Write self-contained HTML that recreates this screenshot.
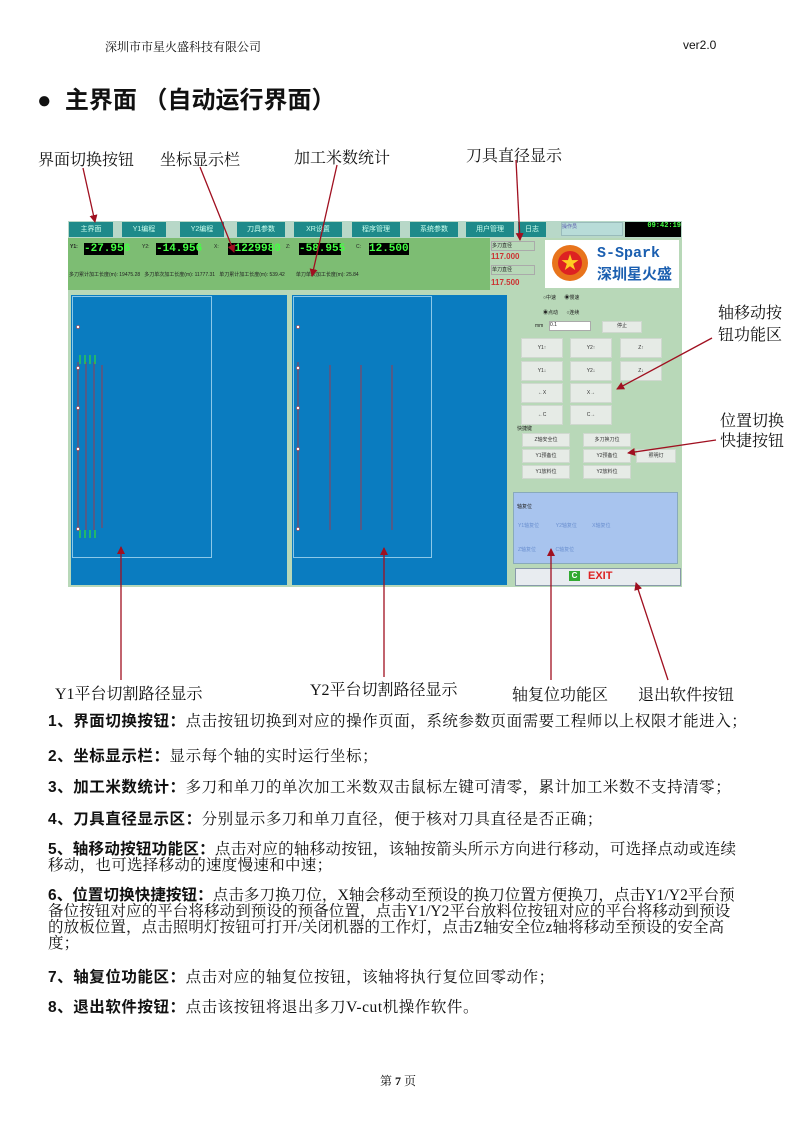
<!DOCTYPE html>
<html><head><meta charset="utf-8"><style>
body{margin:0;background:#fff}
#p{position:relative;width:794px;height:1123px;overflow:hidden;font-family:"Liberation Serif","Noto Serif CJK SC",serif;color:#111}
.a{position:absolute;white-space:nowrap}
.lbl{font-size:16px}
.t{font-size:15.5px;letter-spacing:0.55px;line-height:16px}
.t b{font-family:"Liberation Sans","Noto Sans CJK SC",sans-serif}
.tab{position:absolute;top:222px;height:15px;background:#1e8a8a;color:#cfe;font:7px "Liberation Sans","Noto Sans CJK SC",sans-serif;text-align:center;line-height:15px}
.lcd{position:absolute;top:243px;height:12px;background:#000;color:#4f4;font:bold 11px "Liberation Mono",monospace;line-height:12px}
.s{font:5px "Liberation Sans","Noto Sans CJK SC",sans-serif;color:#222}
.btn{position:absolute;background:#e6ebe6;border:1px solid #cfd8cf;font:5px "Liberation Sans","Noto Sans CJK SC",sans-serif;text-align:center;color:#333}
</style></head><body><div id="p">
<div class="a" style="left:105px;top:38px;font-size:12px">深圳市市星火盛科技有限公司</div>
<div class="a" style="left:683px;top:38px;font:12px 'Liberation Sans',sans-serif">ver2.0</div>
<div class="a" style="left:37px;top:80px;font:bold 24px 'Liberation Sans','Noto Sans CJK SC',sans-serif">●&nbsp; 主界面 （自动运行界面）</div>

<div class="a lbl" style="left:38px;top:147px">界面切换按钮</div>
<div class="a lbl" style="left:160px;top:147px">坐标显示栏</div>
<div class="a lbl" style="left:294px;top:145px">加工米数统计</div>
<div class="a lbl" style="left:466px;top:143px">刀具直径显示</div>
<div class="a lbl" style="left:718px;top:303px;line-height:22px">轴移动按<br>钮功能区</div>
<div class="a lbl" style="left:720px;top:412px;line-height:20px">位置切换<br>快捷按钮</div>
<div class="a lbl" style="left:55px;top:681px">Y1平台切割路径显示</div>
<div class="a lbl" style="left:310px;top:677px">Y2平台切割路径显示</div>
<div class="a lbl" style="left:512px;top:682px">轴复位功能区</div>
<div class="a lbl" style="left:638px;top:682px">退出软件按钮</div>

<div class="a" style="left:68px;top:221px;width:614px;height:366px;background:#b8d8b8"></div>
<div class="a" style="left:68px;top:221px;width:614px;height:17px;background:#b8d8c8"></div>
<div class="tab" style="left:69px;width:44px">主界面</div>
<div class="tab" style="left:122px;width:44px">Y1编程</div>
<div class="tab" style="left:180px;width:44px">Y2编程</div>
<div class="tab" style="left:237px;width:48px">刀具参数</div>
<div class="tab" style="left:294px;width:48px">XR设置</div>
<div class="tab" style="left:352px;width:48px">程序管理</div>
<div class="tab" style="left:410px;width:48px">系统参数</div>
<div class="tab" style="left:466px;width:48px">用户管理</div>
<div class="tab" style="left:518px;width:28px">日志</div>
<div class="a s" style="left:561px;top:222px;width:60px;height:12px;background:#b8dcd8;color:#55a;border:1px solid #9bb">操作员</div>
<div class="a" style="left:625px;top:222px;width:56px;height:15px;background:#000;color:#4f4;font:bold 7px 'Liberation Mono',monospace;text-align:right">09:42:19</div>
<div class="a" style="left:68px;top:238px;width:422px;height:52px;background:#7dbd73"></div>
<div class="a s" style="left:70px;top:244px;font-weight:bold">Y1:</div><div class="lcd" style="left:84px;width:40px">-27.956</div>
<div class="a s" style="left:142px;top:244px">Y2:</div><div class="lcd" style="left:156px;width:42px">-14.956</div>
<div class="a s" style="left:214px;top:244px">X:</div><div class="lcd" style="left:228px;width:44px">-1229980</div>
<div class="a s" style="left:286px;top:244px">Z:</div><div class="lcd" style="left:299px;width:42px">-58.955</div>
<div class="a s" style="left:356px;top:244px">C:</div><div class="lcd" style="left:369px;width:40px">12.500</div>
<div class="a s" style="left:69px;top:271px">多刀累计加工长度(m): 19475.28 &nbsp; 多刀单次加工长度(m): 11777.31 &nbsp; 单刀累计加工长度(m): 539.42 &nbsp;&nbsp;&nbsp;&nbsp;&nbsp;&nbsp; 单刀单次加工长度(m): 25.84</div>
<div class="a s" style="left:491px;top:241px;width:42px;height:8px;border:1px solid #aaa">多刀直径</div>
<div class="a" style="left:491px;top:252px;color:#c33;font:bold 8px 'Liberation Sans',sans-serif">117.000</div>
<div class="a s" style="left:491px;top:265px;width:42px;height:8px;border:1px solid #aaa">单刀直径</div>
<div class="a" style="left:491px;top:278px;color:#c33;font:bold 8px 'Liberation Sans',sans-serif">117.500</div>
<div class="a" style="left:545px;top:240px;width:134px;height:48px;background:#fff"></div>
<div class="a" style="left:552px;top:245px;width:36px;height:36px;border-radius:50%;background:#e8741c"></div>
<div class="a" style="left:558px;top:251px;width:24px;height:24px;border-radius:50%;background:#d22;color:#fc2;font-size:18px;text-align:center;line-height:24px">★</div>
<div class="a" style="left:597px;top:245px;color:#1b5fb0;font:bold 15px 'Liberation Mono',monospace">S-Spark</div>
<div class="a" style="left:597px;top:263px;color:#1b5fb0;font:bold 15px 'Noto Sans CJK SC',sans-serif">深圳星火盛</div>
<div class="a" style="left:71px;top:295px;width:216px;height:290px;background:#0a7cc0"></div>
<div class="a" style="left:292px;top:295px;width:215px;height:290px;background:#0a7cc0"></div>
<div class="a" style="left:72px;top:296px;width:138px;height:260px;border:1px solid #8cc8e8"></div>
<div class="a" style="left:293px;top:296px;width:137px;height:260px;border:1px solid #8cc8e8"></div>
<svg class="a" style="left:0;top:0" width="794" height="1123">
<g stroke="#7a4a6a" stroke-width="1.3">
<line x1="78" y1="362" x2="78" y2="530"/><line x1="86" y1="362" x2="86" y2="530"/><line x1="94" y1="362" x2="94" y2="530"/><line x1="102" y1="365" x2="102" y2="528"/>
<line x1="298" y1="362" x2="298" y2="530"/><line x1="330" y1="365" x2="330" y2="530"/><line x1="361" y1="365" x2="361" y2="530"/><line x1="392" y1="365" x2="392" y2="530"/>
</g>
<g stroke="#3d3" stroke-width="1.2">
<line x1="80" y1="355" x2="80" y2="364"/><line x1="85" y1="355" x2="85" y2="364"/><line x1="90" y1="355" x2="90" y2="364"/><line x1="95" y1="355" x2="95" y2="364"/>
<line x1="80" y1="530" x2="80" y2="538"/><line x1="85" y1="530" x2="85" y2="538"/><line x1="90" y1="530" x2="90" y2="538"/><line x1="95" y1="530" x2="95" y2="538"/>
</g>
<g fill="#fff" stroke="#c44" stroke-width=".6">
<circle cx="78" cy="327" r="1.5"/><circle cx="78" cy="368" r="1.5"/><circle cx="78" cy="408" r="1.5"/><circle cx="78" cy="449" r="1.5"/><circle cx="78" cy="529" r="1.5"/>
<circle cx="298" cy="327" r="1.5"/><circle cx="298" cy="368" r="1.5"/><circle cx="298" cy="408" r="1.5"/><circle cx="298" cy="449" r="1.5"/><circle cx="298" cy="529" r="1.5"/>
</g>
</svg>
<div class="a s" style="left:543px;top:294px">○中速 &nbsp;&nbsp;&nbsp;&nbsp;&nbsp;◉慢速</div>
<div class="a s" style="left:543px;top:309px">◉点动 &nbsp;&nbsp;&nbsp;&nbsp;&nbsp;○连续</div>
<div class="a s" style="left:535px;top:323px">mm</div>
<div class="a s" style="left:549px;top:321px;width:40px;height:8px;background:#fff;border:1px solid #aaa">0.1</div>
<div class="btn" style="left:602px;top:321px;width:38px;height:10px">停止</div>
<div class="btn" style="left:521px;top:338px;width:40px;height:18px;line-height:18px">Y1↑</div>
<div class="btn" style="left:570px;top:338px;width:40px;height:18px;line-height:18px">Y2↑</div>
<div class="btn" style="left:620px;top:338px;width:40px;height:18px;line-height:18px">Z↑</div>
<div class="btn" style="left:521px;top:361px;width:40px;height:18px;line-height:18px">Y1↓</div>
<div class="btn" style="left:570px;top:361px;width:40px;height:18px;line-height:18px">Y2↓</div>
<div class="btn" style="left:620px;top:361px;width:40px;height:18px;line-height:18px">Z↓</div>
<div class="btn" style="left:521px;top:383px;width:40px;height:18px;line-height:18px">←X</div>
<div class="btn" style="left:570px;top:383px;width:40px;height:18px;line-height:18px">X→</div>
<div class="btn" style="left:521px;top:405px;width:40px;height:18px;line-height:18px">←C</div>
<div class="btn" style="left:570px;top:405px;width:40px;height:18px;line-height:18px">C→</div>
<div class="a s" style="left:517px;top:425px">快捷键</div>
<div class="btn" style="left:522px;top:433px;width:46px;height:12px;line-height:12px">Z轴安全位</div>
<div class="btn" style="left:583px;top:433px;width:46px;height:12px;line-height:12px">多刀换刀位</div>
<div class="btn" style="left:522px;top:449px;width:46px;height:12px;line-height:12px">Y1预备位</div>
<div class="btn" style="left:583px;top:449px;width:46px;height:12px;line-height:12px">Y2预备位</div>
<div class="btn" style="left:636px;top:449px;width:38px;height:12px;line-height:12px">照明灯</div>
<div class="btn" style="left:522px;top:465px;width:46px;height:12px;line-height:12px">Y1放料位</div>
<div class="btn" style="left:583px;top:465px;width:46px;height:12px;line-height:12px">Y2放料位</div>
<div class="a" style="left:513px;top:492px;width:163px;height:70px;background:#a8c4ee;border:1px solid #8ab"></div>
<div class="a s" style="left:517px;top:503px">轴复位</div>
<div class="a s" style="left:518px;top:522px;color:#6a8fd0">Y1轴复位 &nbsp;&nbsp;&nbsp;&nbsp;&nbsp;&nbsp;&nbsp;&nbsp;&nbsp;&nbsp; Y2轴复位 &nbsp;&nbsp;&nbsp;&nbsp;&nbsp;&nbsp;&nbsp;&nbsp;&nbsp; X轴复位</div>
<div class="a s" style="left:518px;top:546px;color:#6a8fd0">Z轴复位 &nbsp;&nbsp;&nbsp;&nbsp;&nbsp;&nbsp;&nbsp;&nbsp;&nbsp;&nbsp;&nbsp;&nbsp; C轴复位</div>
<div class="a" style="left:515px;top:568px;width:164px;height:16px;background:#e8ecf0;border:1px solid #89a"></div>
<div class="a" style="left:569px;top:571px;width:11px;height:10px;background:#3a3;color:#fff;font:bold 8px sans-serif;text-align:center">C</div>
<div class="a" style="left:588px;top:570px;color:#d22;font:bold 11px 'Liberation Sans',sans-serif">EXIT</div>

<svg class="a" style="left:0;top:0" width="794" height="1123">
<defs><marker id="m" markerWidth="8" markerHeight="8" refX="7" refY="4" orient="auto" markerUnits="userSpaceOnUse"><path d="M0,0 L8,4 L0,8 z" fill="#a01020"/></marker></defs>
<g stroke="#a01020" stroke-width="1.3" marker-end="url(#m)">
<line x1="83" y1="168" x2="95" y2="222"/>
<line x1="200" y1="167" x2="234" y2="252"/>
<line x1="337" y1="165" x2="312" y2="276"/>
<line x1="516" y1="160" x2="520" y2="240"/>
<line x1="712" y1="338" x2="617" y2="389"/>
<line x1="716" y1="440" x2="628" y2="453"/>
<line x1="121" y1="680" x2="121" y2="547"/>
<line x1="384" y1="677" x2="384" y2="548"/>
<line x1="551" y1="680" x2="551" y2="549"/>
<line x1="668" y1="680" x2="636" y2="583"/>
</g></svg>

<div class="a t" style="left:48px;top:714px"><b>1、界面切换按钮：</b>点击按钮切换到对应的操作页面，系统参数页面需要工程师以上权限才能进入；</div>
<div class="a t" style="left:48px;top:749px"><b>2、坐标显示栏：</b>显示每个轴的实时运行坐标；</div>
<div class="a t" style="left:48px;top:780px"><b>3、加工米数统计：</b>多刀和单刀的单次加工米数双击鼠标左键可清零，累计加工米数不支持清零；</div>
<div class="a t" style="left:48px;top:812px"><b>4、刀具直径显示区：</b>分别显示多刀和单刀直径，便于核对刀具直径是否正确；</div>
<div class="a t" style="left:48px;top:842px;letter-spacing:0.3px"><b>5、轴移动按钮功能区：</b>点击对应的轴移动按钮，该轴按箭头所示方向进行移动，可选择点动或连续<br>移动，也可选择移动的速度慢速和中速；</div>
<div class="a t" style="left:48px;top:888px;letter-spacing:0.1px"><b>6、位置切换快捷按钮：</b>点击多刀换刀位，X轴会移动至预设的换刀位置方便换刀，点击Y1/Y2平台预<br>备位按钮对应的平台将移动到预设的预备位置，点击Y1/Y2平台放料位按钮对应的平台将移动到预设<br>的放板位置，点击照明灯按钮可打开/关闭机器的工作灯，点击Z轴安全位z轴将移动至预设的安全高<br>度；</div>
<div class="a t" style="left:48px;top:970px"><b>7、轴复位功能区：</b>点击对应的轴复位按钮，该轴将执行复位回零动作；</div>
<div class="a t" style="left:48px;top:1000px"><b>8、退出软件按钮：</b>点击该按钮将退出多刀V-cut机操作软件。</div>
<div class="a" style="left:380px;top:1072px;font-size:12px">第 <b>7</b> 页</div>
</div></body></html>
